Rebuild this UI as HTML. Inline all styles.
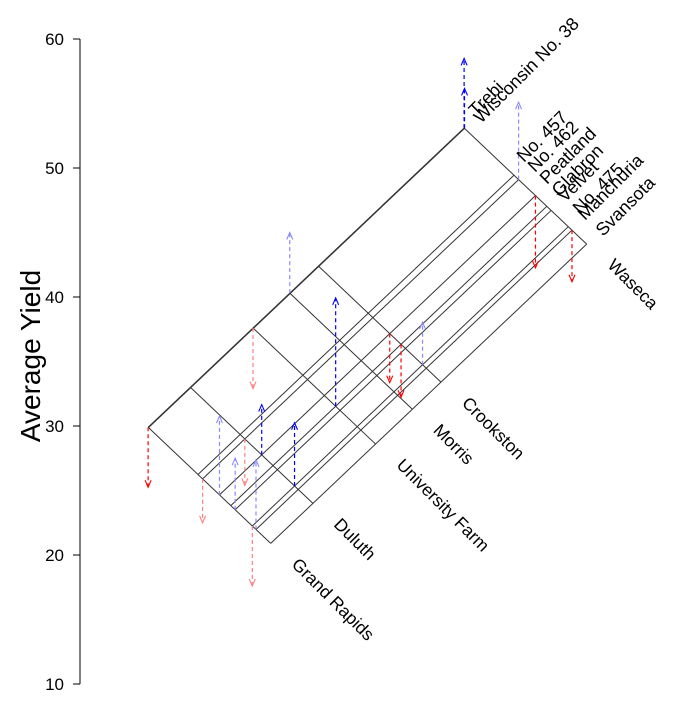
<!DOCTYPE html>
<html><head><meta charset="utf-8">
<style>
html,body{margin:0;padding:0;background:#fff;}
svg{display:block;font-family:"Liberation Sans",Arial,sans-serif;}
</style></head>
<body>
<svg id="chart" width="695" height="704" viewBox="0 0 695 704">
  <g id="axis"></g>
  <text x="0" y="0" transform="translate(40,356) rotate(-90)" text-anchor="middle" font-size="28">Average Yield</text>
  <g id="grid"></g>
  <g id="arrows"></g>
  <g id="labels"></g>
</svg>
<script>
const yTicks = [10, 20, 30, 40, 50, 60];
const sites = ["Grand Rapids", "Duluth", "University Farm", "Morris", "Crookston", "Waseca"];
const siteEffects = [0, 3.1, 7.7, 10.4, 12.5, 23.2];
const varieties = ["Svansota", "Manchuria", "No. 475", "Velvet", "Glabron", "Peatland", "No. 462", "No. 457", "Wisconsin No. 38", "Trebi"];
const varietyEffects = [0, 1.08, 1.35, 2.61, 2.93, 3.76, 5.0, 5.34, 8.97, 9.0];
const baseValue = 20.9;
const resSite = ["Grand Rapids","Grand Rapids","Grand Rapids","University Farm","Duluth","Grand Rapids","Duluth","Grand Rapids","Grand Rapids","Duluth","University Farm","Morris","Waseca","Waseca","Waseca","Waseca","Waseca","Crookston","Crookston","Crookston"];
const resVariety = ["Trebi","No. 462","Peatland","Trebi","No. 462","Velvet","Peatland","Manchuria","No. 475","No. 475","Glabron","Trebi","Wisconsin No. 38","Trebi","No. 462","Peatland","Manchuria","Peatland","Glabron","No. 475"];
const resValue = [-4.65,-3.4,6.1,-4.7,-3.6,4.0,3.9,5.4,-4.65,4.9,8.4,4.7,3.1,5.4,6.0,-5.6,-4.0,-3.8,-4.1,3.3];
const resShade = [1,0,0,0,0,0,1,0,0,1,1,0,1,1,0,1,1,1,1,0];

const NS = "http://www.w3.org/2000/svg";
const Y0 = 684, PXU = 12.9, X0 = 270.7, KX = 13.62;
function yScale(v){ return Y0 - (v - 10) * PXU; }
function pt(s, v){ return { x: X0 + KX * (s - v), y: yScale(baseValue + s + v) }; }
function mk(tag, attrs, parent){ const e = document.createElementNS(NS, tag); for (const k in attrs) e.setAttribute(k, attrs[k]); parent.appendChild(e); return e; }

const ax = document.getElementById('axis');
let al = mk('line', {x1:80, x2:80, y1:yScale(yTicks[0]), y2:yScale(yTicks[yTicks.length-1]), stroke:'#000', 'stroke-width':1}, ax);


yTicks.forEach(t => {
  const tk = mk('line', {x1:73, x2:80, y1:yScale(t), y2:yScale(t), stroke:'#000', 'stroke-width':1}, ax);
  
  
  const tl = mk('text', {x:64, y:yScale(t)+6, 'text-anchor':'end', 'font-size':17}, ax);
  
  
  tl.textContent = t;
});

const grid = document.getElementById('grid');
const sMax = Math.max(...siteEffects), vMax = Math.max(...varietyEffects);
const sMin = Math.min(...siteEffects), vMin = Math.min(...varietyEffects);
siteEffects.forEach((s, i) => {
  const a = pt(s, vMin), b = pt(s, vMax);
  const l = mk('line', {x1:a.x, y1:a.y, x2:b.x, y2:b.y, stroke:'#333', 'stroke-width':1}, grid);
  
  
});
varietyEffects.forEach((v, i) => {
  const a = pt(sMin, v), b = pt(sMax, v);
  const l = mk('line', {x1:a.x, y1:a.y, x2:b.x, y2:b.y, stroke:'#333', 'stroke-width':1}, grid);
  
  
});

const arrows = document.getElementById('arrows');
resValue.forEach((r, i) => {
  const s = siteEffects[sites.indexOf(resSite[i])];
  const v = varietyEffects[varieties.indexOf(resVariety[i])];
  const p = pt(s, v);
  const y2 = yScale(baseValue + s + v + r);
  let col;
  if (r > 0) col = resShade[i] ? '#0000ff' : '#8a8aff';
  else col = resShade[i] ? '#ff0000' : '#ff8080';
  const g = mk('g', {}, arrows);
  
  
  mk('line', {x1:p.x, y1:p.y, x2:p.x, y2:y2, stroke:col, 'stroke-width':1.2, 'stroke-dasharray':'4,3'}, g);
  const d = r > 0 ? 1 : -1;
  mk('polyline', {points:`${p.x-3},${y2+d*7} ${p.x},${y2} ${p.x+3},${y2+d*7}`, fill:'none', stroke:col, 'stroke-width':1.1}, g);
});

const labels = document.getElementById('labels');
siteEffects.forEach((s, i) => {
  const p = pt(s, vMin);
  const t = mk('text', {transform:`translate(${p.x+20},${p.y+22}) rotate(45)`, 'font-size':17.5}, labels);
  
  
  t.textContent = sites[i];
});
const vLabelPos = {"Trebi":[476,117],"Wisconsin No. 38":[481,124],"No. 457":[524,163],"No. 462":[535,173],"Peatland":[547,185],"Glabron":[559,197],"Velvet":[565,203],"No. 475":[580,215],"Manchuria":[585,221],"Svansota":[603,237]};
varieties.forEach((name, i) => {
  const q = vLabelPos[name];
  const t = mk('text', {transform:`translate(${q[0]},${q[1]}) rotate(-45)`, 'font-size':18}, labels);
  
  
  t.textContent = name;
});
</script>
</body></html>
